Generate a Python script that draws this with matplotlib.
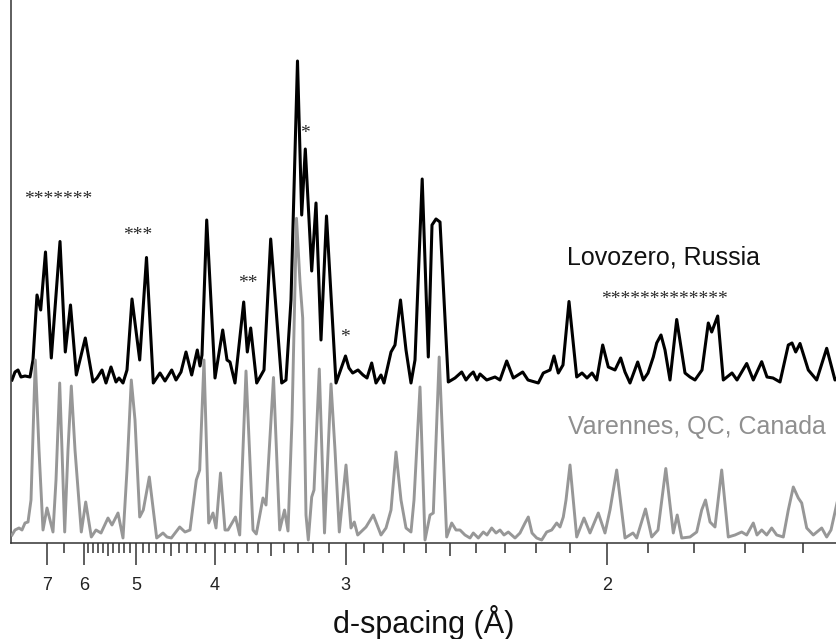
import numpy as np
import matplotlib
matplotlib.use("Agg")
import matplotlib.pyplot as plt

plt.rcParams['font.family'] = ['Liberation Sans', 'DejaVu Sans']

# Reciprocal d-spacing (1/d, Å^-1) and intensity (a.u.) of each powder pattern
s_lovozero = [
    0.12074, 0.12265, 0.12456, 0.12648, 0.12903, 0.13221, 0.13412, 0.13667, 0.13903, 0.14209,
    0.14579, 0.15134, 0.15471, 0.15803, 0.16173, 0.16746, 0.17237, 0.17492, 0.17811, 0.18066,
    0.18384, 0.18703, 0.18894, 0.19149, 0.19404, 0.19723, 0.20214, 0.20647, 0.21081, 0.21508,
    0.21826, 0.22254, 0.22528, 0.22846, 0.23165, 0.23528, 0.23885, 0.24058, 0.24185, 0.24485,
    0.25014, 0.25505, 0.25779, 0.25970, 0.26288, 0.26843, 0.27073, 0.27289, 0.27672, 0.28137,
    0.28564, 0.29265, 0.29539, 0.29858, 0.30272, 0.30540, 0.30770, 0.31178, 0.31452, 0.31770,
    0.32121, 0.32727, 0.33332, 0.33555, 0.33791, 0.34129, 0.34448, 0.34703, 0.35002, 0.35276,
    0.35595, 0.35786, 0.36233, 0.36487, 0.36838, 0.37189, 0.37507, 0.37762, 0.38221, 0.38610,
    0.38846, 0.39101, 0.39356, 0.39885, 0.40312, 0.40739, 0.41013, 0.41268, 0.41478, 0.41714,
    0.41906, 0.42333, 0.42862, 0.43180, 0.43608, 0.44028, 0.44328, 0.44627, 0.44965, 0.45622,
    0.45940, 0.46368, 0.46623, 0.46897, 0.47196, 0.47579, 0.48070, 0.48408, 0.48726, 0.49045,
    0.49344, 0.49727, 0.50084, 0.50511, 0.50874, 0.51148, 0.51467, 0.51958, 0.52315, 0.52615,
    0.52952, 0.53169, 0.53443, 0.53698, 0.54017, 0.54444, 0.54973, 0.55292, 0.55610, 0.56057,
    0.56458, 0.56675, 0.57057, 0.57414, 0.57969, 0.58288, 0.58906, 0.59327, 0.59862, 0.60200,
    0.60582, 0.61029, 0.61558, 0.61794, 0.62029, 0.62304, 0.62833, 0.63368, 0.64005, 0.64534,
    0.64662,
]
i_lovozero = [
    3, 11, 13, 6, 7, 6, 23, 88, 73, 131,
    25, 141.5, 31, 78, 8, 45, 1, 5, 13, 0,
    16, 1, 5, 0, 13, 84, 23, 125.5, 0, 10,
    2, 13, 3, 11, 31, 8, 33, 17, 28, 163,
    5, 53, 23, 21, 0, 81, 31, 55, 0, 13,
    144, 0, 3, 83, 322, 168, 234, 112, 180, 43,
    167, 0, 27, 15, 10, 13, 8, 5, 20, 0,
    8, 0, 31, 38, 83, 33, 0, 23, 204, 26,
    158, 164, 161, 1, 5, 11, 3, 8, 11, 3,
    9, 3, 6, 3, 22, 5, 8, 11, 3, 0,
    10, 13, 27, 10, 18, 81.5, 6, 10, 5, 10,
    3, 38, 16, 13, 25, 11, 0, 21, 3, 10,
    26, 40, 48, 33, 3, 63.5, 10, 6, 3, 13,
    60, 51, 67, 3, 10, 3, 19.5, 3, 21.3, 6,
    5, 1, 38, 40, 31, 39.5, 13, 3, 34.7, 3,
    5,
]

s_varennes = [
    0.12074, 0.12265, 0.12520, 0.12711, 0.12903, 0.13094, 0.13285, 0.13559, 0.13795, 0.14050,
    0.14305, 0.14687, 0.14879, 0.15114, 0.15261, 0.15433, 0.15643, 0.15854, 0.16090, 0.16491,
    0.16772, 0.17129, 0.17428, 0.17747, 0.18193, 0.18448, 0.18831, 0.19149, 0.19404, 0.19678,
    0.19914, 0.20214, 0.20443, 0.20826, 0.21297, 0.21699, 0.21954, 0.22228, 0.22764, 0.23101,
    0.23420, 0.23822, 0.24038, 0.24313, 0.24612, 0.24886, 0.25078, 0.25364, 0.25651, 0.25842,
    0.26320, 0.26588, 0.26990, 0.27436, 0.27646, 0.28073, 0.28265, 0.28743, 0.29138, 0.29444,
    0.29667, 0.29922, 0.30209, 0.30432, 0.30604, 0.30814, 0.30961, 0.31178, 0.31324, 0.31662,
    0.31994, 0.32408, 0.32663, 0.32937, 0.33364, 0.33683, 0.33893, 0.34110, 0.34639, 0.35104,
    0.35595, 0.35914, 0.36233, 0.36551, 0.36870, 0.37189, 0.37507, 0.37699, 0.38081, 0.38400,
    0.38719, 0.38929, 0.39305, 0.39783, 0.40102, 0.40376, 0.40631, 0.40949, 0.41268, 0.41478,
    0.41797, 0.42116, 0.42352, 0.42651, 0.42926, 0.43180, 0.43435, 0.43709, 0.44137, 0.44455,
    0.44774, 0.44984, 0.45220, 0.45520, 0.45838, 0.46157, 0.46476, 0.46795, 0.47005, 0.47215,
    0.47388, 0.47643, 0.48070, 0.48535, 0.48917, 0.49446, 0.49873, 0.50192, 0.50619, 0.51148,
    0.51658, 0.51894, 0.52455, 0.52850, 0.53252, 0.53749, 0.54227, 0.54476, 0.54763, 0.55292,
    0.55719, 0.56037, 0.56280, 0.56567, 0.56885, 0.57312, 0.57733, 0.58160, 0.58587, 0.58906,
    0.59327, 0.59562, 0.59862, 0.60181, 0.60499, 0.60818, 0.61239, 0.61558, 0.61876, 0.62195,
    0.62412, 0.62731, 0.63151, 0.63687, 0.64005, 0.64279, 0.64662,
]
i_varennes = [
    5, 10, 12, 10, 17, 18, 40, 180, 90, 10,
    32, 8, 60, 157, 90, 8, 90, 154, 90, 8,
    38, 3, 10, 7, 22, 15, 27, 2, 70, 160,
    120, 23, 30, 63, 2, 7, 3, 2, 13, 8,
    10, 60, 70, 180, 17, 27, 12, 67, 10, 10,
    23, 5, 169, 10, 6, 42, 35, 162.5, 10, 30,
    9, 120, 321.7, 258, 222, 25, 0, 43, 50, 171,
    7, 156, 90, 8, 75, 12, 18, 5, 13, 25,
    5, 12, 30, 88, 40, 12, 8, 40, 153, 0,
    25, 27, 183, 3, 17, 10, 10, 5, 2, 7,
    2, 8, 5, 12, 7, 10, 5, 8, 2, 7,
    17, 23, 7, 2, 0, 8, 10, 17, 13, 23,
    40, 75, 3, 22, 7, 27, 7, 30, 70, 2,
    7, 2, 31, 3, 10, 71.5, 7, 25, 2, 3,
    8, 30, 40, 18, 13, 70, 3, 5, 8, 5,
    17, 5, 10, 5, 12, 5, 3, 30, 53, 42,
    37, 12, 5, 12, 3, 10, 37,
]

# d-spacing ticks (Å)
major_d = [7, 6, 5, 4, 3, 2]
mid_d = [5.5, 4.5, 3.5, 2.5]
minor_d = [6.5] + [d for d in np.round(np.arange(1.6, 6.0, 0.1), 1)
                   if d not in major_d and d not in mid_d]

# asterisk marks: (text, 1/d, height)
star_marks = [
    ("*******", 0.15038, 348),
    ("***", 0.20106, 313),
    ("**", 0.27117, 265),
    ("*", 0.30770, 414),
    ("*", 0.33300, 210),
    ("*************", 0.53634, 249),
]

offset_lovozero = 160
offset_varennes = 3

fig = plt.figure(figsize=(8.37, 6.39), dpi=100)
ax = fig.add_axes([10.7 / 837, 96 / 639, 1 - 10.7 / 837, 543 / 639])

ax.plot(s_lovozero, np.array(i_lovozero) + offset_lovozero,
        color='black', lw=2.2, zorder=2)
ax.plot(s_varennes, np.array(i_varennes) + offset_varennes,
        color='#979797', lw=2.1, zorder=3)

ax.set_xlim(0.11991, 0.64662)
ax.set_ylim(0, 543)

for side in ('top', 'right'):
    ax.spines[side].set_visible(False)
for side in ('left', 'bottom'):
    ax.spines[side].set_linewidth(1.1)
    ax.spines[side].set_color('#333333')

ax.set_yticks([])
ax.set_xticks([1 / d for d in major_d])
ax.set_xticklabels([str(d) for d in major_d])
ax.set_xticks([1 / d for d in minor_d], minor=True)
ax.tick_params(axis='x', which='major', direction='out', length=15.5, width=1.1,
               color='#333333', pad=9, labelsize=13, labelcolor='#222222')
ax.tick_params(axis='x', which='minor', direction='out', length=7.2, width=1.1,
               color='#333333')

sec = ax.secondary_xaxis('bottom')
sec.set_xticks([1 / d for d in mid_d])
sec.tick_params(axis='x', direction='out', length=9.2, width=1.1,
                color='#333333', labelbottom=False)
sec.spines['bottom'].set_visible(False)

ax.set_xlabel('d-spacing (Å)', fontsize=22, color='#111111')
ax.xaxis.label.set_va('baseline')
ax.xaxis.set_label_coords(0.5, -90 / 543)

ax.text(0.53634, 286, 'Lovozero, Russia', fontsize=18, color='#111111',
        ha='center', va='center')
ax.text(0.55738, 116, 'Varennes, QC, Canada', fontsize=18, color='#8f8f8f',
        ha='center', va='center')

for txt, sx, y in star_marks:
    ax.text(sx, y - 5, txt, fontsize=14, color='#2a2a2a', ha='center', va='center',
            family=['Liberation Serif', 'DejaVu Serif'])

fig.savefig('out.png', dpi=100)
